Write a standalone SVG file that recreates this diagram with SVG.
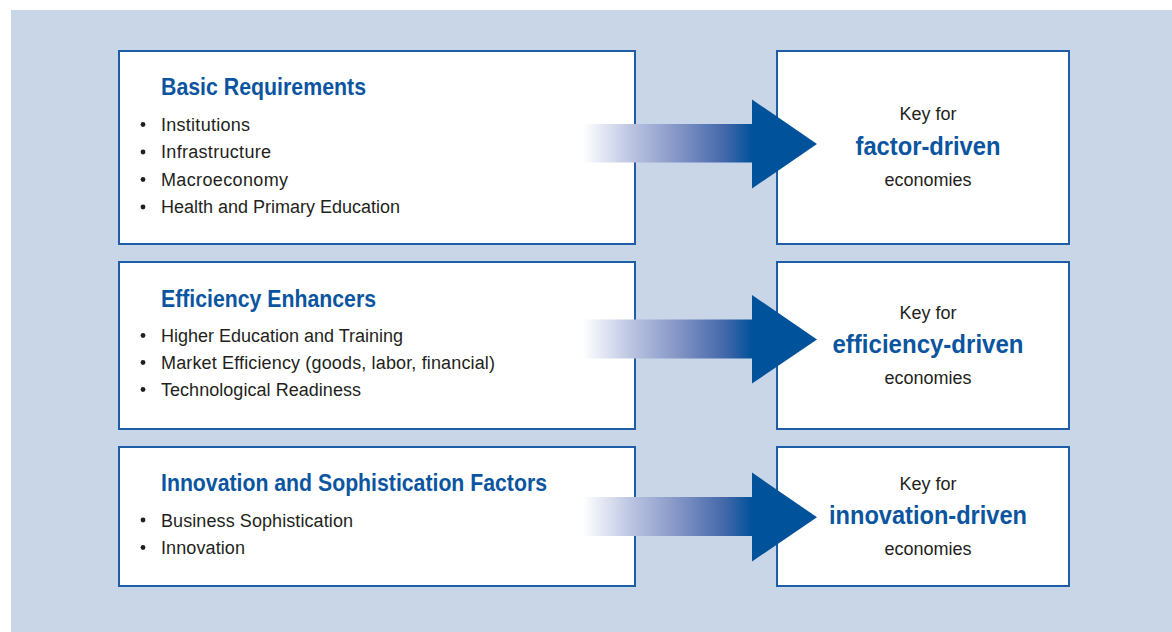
<svg xmlns="http://www.w3.org/2000/svg" width="1172" height="632" viewBox="0 0 1172 632">
  <defs>
    <linearGradient id="shaft" gradientUnits="userSpaceOnUse" x1="583" y1="0" x2="752" y2="0">
      <stop offset="0" stop-color="#ffffff"/>
      <stop offset="0.3" stop-color="#b9c1e0"/>
      <stop offset="0.6" stop-color="#7c8fc2"/>
      <stop offset="0.85" stop-color="#3f66a8"/>
      <stop offset="1" stop-color="#00529b"/>
    </linearGradient>
    <style>
      .panel { fill: #c9d6e8; }
      .box { fill: #ffffff; stroke: #1d5ea6; stroke-width: 2; }
      .title { font-family: "Liberation Sans", Arial, sans-serif; font-weight: bold; font-size: 24px; fill: #0b55a0; }
      .item { font-family: "Liberation Sans", Arial, sans-serif; font-size: 18px; fill: #231f20; }
      .dot { fill: #231f20; }
      .key { font-family: "Liberation Sans", Arial, sans-serif; font-size: 18px; fill: #231f20; text-anchor: middle; }
      .stage { font-family: "Liberation Sans", Arial, sans-serif; font-weight: bold; font-size: 25px; fill: #0b55a0; text-anchor: middle; }
      .shaft { fill: url(#shaft); }
      .head { fill: #00529b; }
    </style>
  </defs>

  <rect class="panel" x="11" y="10" width="1161" height="622"/>

  <!-- pillar groups -->
  <g id="basic-requirements">
    <rect class="box" x="119" y="51" width="516" height="193"/>
    <text class="title" x="161" y="95" textLength="205" lengthAdjust="spacingAndGlyphs">Basic Requirements</text>
    <circle class="dot" cx="143" cy="124.5" r="2.4"/>
    <text class="item" x="161" y="131" textLength="89">Institutions</text>
    <circle class="dot" cx="143" cy="152" r="2.4"/>
    <text class="item" x="161" y="158" textLength="110">Infrastructure</text>
    <circle class="dot" cx="143" cy="179.5" r="2.4"/>
    <text class="item" x="161" y="186" textLength="127">Macroeconomy</text>
    <circle class="dot" cx="143" cy="207" r="2.4"/>
    <text class="item" x="161" y="213" textLength="239">Health and Primary Education</text>
  </g>

  <g id="efficiency-enhancers">
    <rect class="box" x="119" y="262" width="516" height="167"/>
    <text class="title" x="161" y="306.5" textLength="215" lengthAdjust="spacingAndGlyphs">Efficiency Enhancers</text>
    <circle class="dot" cx="143" cy="335.5" r="2.4"/>
    <text class="item" x="161" y="342" textLength="242">Higher Education and Training</text>
    <circle class="dot" cx="143" cy="362.5" r="2.4"/>
    <text class="item" x="161" y="369" textLength="334">Market Efficiency (goods, labor, financial)</text>
    <circle class="dot" cx="143" cy="389.5" r="2.4"/>
    <text class="item" x="161" y="396" textLength="200">Technological Readiness</text>
  </g>

  <g id="innovation-factors">
    <rect class="box" x="119" y="447" width="516" height="139"/>
    <text class="title" x="161" y="491" textLength="386" lengthAdjust="spacingAndGlyphs">Innovation and Sophistication Factors</text>
    <circle class="dot" cx="143" cy="520" r="2.4"/>
    <text class="item" x="161" y="526.5" textLength="192">Business Sophistication</text>
    <circle class="dot" cx="143" cy="547.5" r="2.4"/>
    <text class="item" x="161" y="554" textLength="84">Innovation</text>
  </g>

  <!-- stage groups -->
  <g id="factor-driven">
    <rect class="box" x="777" y="51" width="292" height="193"/>
    <text class="key" x="928" y="120">Key for</text>
    <text class="stage" x="928" y="155" textLength="145" lengthAdjust="spacingAndGlyphs">factor-driven</text>
    <text class="key" x="928" y="186">economies</text>
  </g>

  <g id="efficiency-driven">
    <rect class="box" x="777" y="262" width="292" height="167"/>
    <text class="key" x="928" y="318.5">Key for</text>
    <text class="stage" x="928" y="352.5" textLength="191" lengthAdjust="spacingAndGlyphs">efficiency-driven</text>
    <text class="key" x="928" y="384">economies</text>
  </g>

  <g id="innovation-driven">
    <rect class="box" x="777" y="447" width="292" height="139"/>
    <text class="key" x="928" y="490">Key for</text>
    <text class="stage" x="928" y="524" textLength="198" lengthAdjust="spacingAndGlyphs">innovation-driven</text>
    <text class="key" x="928" y="554.5">economies</text>
  </g>

  <!-- connectors: gradient arrows from each pillar to its stage -->
  <g id="connectors">
    <g id="arrow-1">
      <rect class="shaft" x="583" y="124" width="170" height="38.5"/>
      <polygon class="head" points="752,99.5 817,144 752,188.5"/>
    </g>
    <g id="arrow-2">
      <rect class="shaft" x="583" y="319.5" width="170" height="39"/>
      <polygon class="head" points="752,295 817,339.5 752,383.5"/>
    </g>
    <g id="arrow-3">
      <rect class="shaft" x="583" y="497" width="170" height="39"/>
      <polygon class="head" points="752,472.5 817,517.3 752,561.5"/>
    </g>
  </g>
</svg>
